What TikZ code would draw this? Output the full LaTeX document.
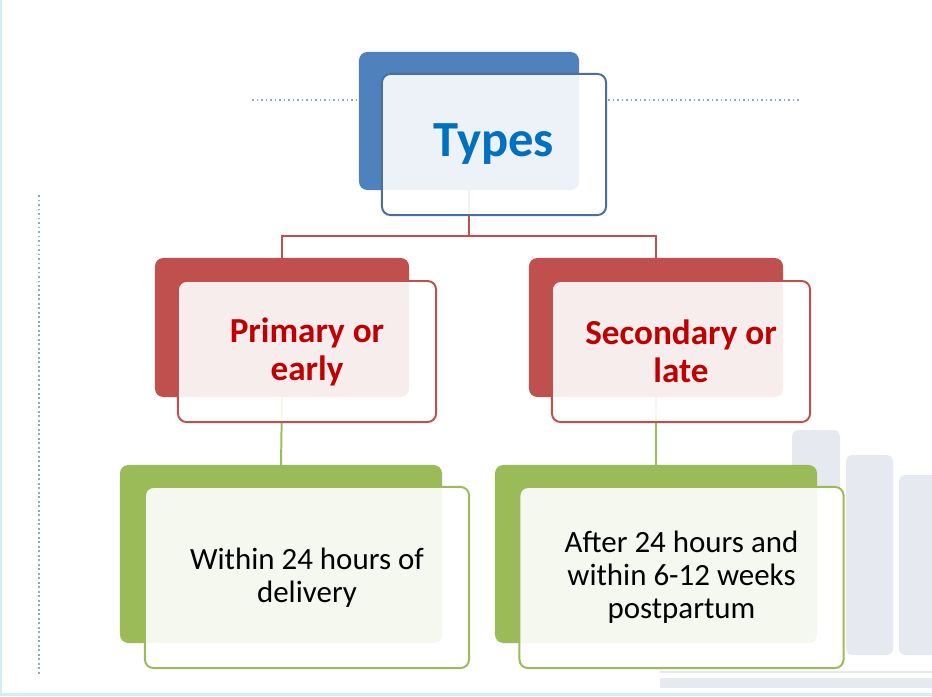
\documentclass[tikz,border=0pt]{standalone}
\usepackage{fontspec}
\setmainfont{Carlito}
\usetikzlibrary{arrows.meta}

\definecolor{typesblue}{HTML}{4F81BD}
\definecolor{typesedge}{HTML}{4A6E9E}
\definecolor{typestext}{HTML}{0070C0}
\definecolor{kindred}{HTML}{C0504D}
\definecolor{kindtext}{HTML}{C00000}
\definecolor{timegreen}{HTML}{9BBB59}
\definecolor{dotblue}{HTML}{8FAAC6}
\definecolor{barfill}{HTML}{E6EAF0}
\definecolor{edgeblue}{HTML}{D6ECF6}

\begin{document}
\begin{tikzpicture}[x=0.025cm, y=-0.025cm, line width=1.4pt,
  backbox/.style={rectangle, rounded corners=6pt, inner sep=0pt, outer sep=0pt},
  frontbox/.style={rectangle, rounded corners=6pt, inner sep=0pt, outer sep=0pt,
    fill=white, fill opacity=0.9, text opacity=1, align=center},
  dotline/.style={dotblue, dotted, line width=1.2pt}]
  \useasboundingbox (0,0) rectangle (932,696);
  % Fond
  \fill[edgeblue] (0,0) rectangle (2,696);
  \fill[edgeblue] (0,693) rectangle (932,696);
  \fill[barfill] (660,671) rectangle (932,673);
  \fill[barfill] (660,678) rectangle (932,688);
  \fill[barfill, rounded corners=4pt] (792,430) rectangle (840,655);
  \fill[barfill, rounded corners=4pt] (846,455) rectangle (893,655);
  \fill[barfill, rounded corners=4pt] (899,475) rectangle (940,655);
  \draw[dotline] (252,100) -- (357,100);
  \draw[dotline] (608,100) -- (800,100);
  \draw[dotline] (39,195) -- (39,676);
  % Dessous blanc des boites avant
  \fill[white, rounded corners=6pt] (519,487) rectangle (844,668);
  \fill[white, rounded corners=6pt] (145,487) rectangle (469,668);
  % Types
  \node[backbox, fill=typesblue, minimum width=5.5cm, minimum height=3.45cm]
    (typesback) at (469,121) {};
  % Primaire / secondaire
  \node[backbox, fill=kindred, minimum width=6.35cm, minimum height=3.475cm]
    (primaryback) at (282,327.5) {};
  \node[backbox, fill=kindred, minimum width=6.35cm, minimum height=3.475cm]
    (secondaryback) at (656,327.5) {};
  % Delais
  \node[backbox, fill=timegreen, minimum width=8.05cm, minimum height=4.45cm]
    (withinback) at (281,554) {};
  \node[backbox, fill=timegreen, minimum width=8.05cm, minimum height=4.45cm]
    (afterback) at (656,554) {};
  % Liaisons
  \coordinate (fork) at (469,236);
  \draw[kindred] (typesback.south) -- (fork);
  \draw[kindred] (primaryback.north) |- (fork) -| (secondaryback.north);
  \draw[timegreen] (primaryback.south) -- (withinback.north);
  \draw[timegreen] (secondaryback.south) -- (afterback.north);
  % Boites avant
  \node[frontbox, draw=typesedge, minimum width=5.6cm, minimum height=3.525cm,
    text=typestext, font=\fontsize{36}{40}\selectfont\bfseries]
    (types) at (494,144.5) {Types};
  \node[frontbox, draw=kindred, minimum width=6.45cm, minimum height=3.525cm,
    text=kindtext, font=\fontsize{25}{27}\selectfont\bfseries]
    (primary) at (307,351.5) {Primary or\\early};
  \node[frontbox, draw=kindred, minimum width=6.45cm, minimum height=3.525cm,
    text=kindtext, font=\fontsize{25}{27}\selectfont\bfseries]
    (secondary) at (681,351.5) {Secondary or\\late};
  \node[frontbox, draw=timegreen, minimum width=8.1cm, minimum height=4.525cm,
    font=\fontsize{22}{23.5}\selectfont]
    (within) at (307,577.5) {Within 24 hours of\\delivery};
  \node[frontbox, draw=timegreen, minimum width=8.1cm, minimum height=4.525cm,
    font=\fontsize{22}{23.5}\selectfont]
    (after) at (681.5,577.5) {After 24 hours and\\within 6-12 weeks\\postpartum};
\end{tikzpicture}
\end{document}
